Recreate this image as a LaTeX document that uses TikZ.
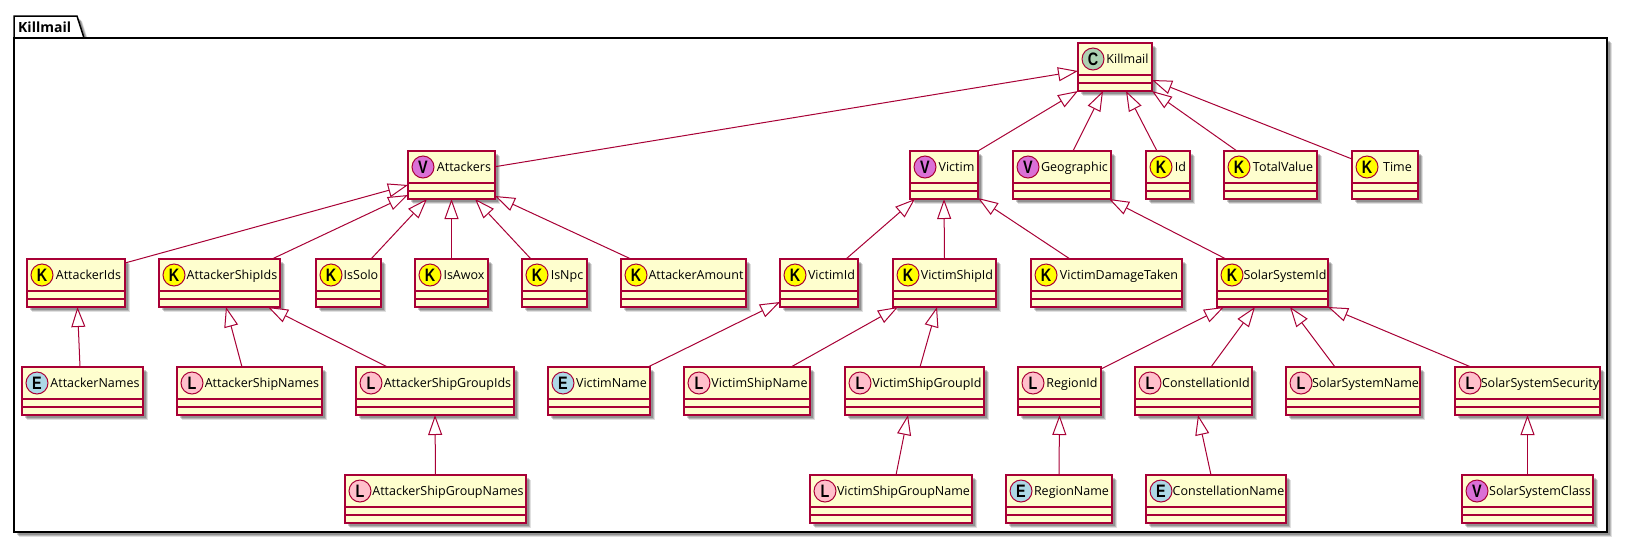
\documentclass[tikz,border=0pt]{standalone}
\usepackage{fontspec}
\setmainfont{Open Sans}
\newfontfamily\spotfont[FakeStretch=0.8]{Liberation Sans}
\usetikzlibrary{arrows.meta, shadows}
\definecolor{umlred}{HTML}{A80036}
\definecolor{umlcream}{HTML}{FEFECE}
\definecolor{spotc}{HTML}{ADD1B2}
\definecolor{spotk}{HTML}{FFFF00}
\definecolor{spotv}{HTML}{DA70D6}
\definecolor{spotl}{HTML}{FFC0CB}
\definecolor{spote}{HTML}{ADD8E6}
\tikzset{
  % Soft shadow under boxes
  softshadow/.style={
    drop shadow={shadow xshift=5pt, shadow yshift=-5pt, opacity=0.12, fill=black},
    drop shadow={shadow xshift=4pt, shadow yshift=-4pt, opacity=0.18, fill=black},
    drop shadow={shadow xshift=3pt, shadow yshift=-3pt, opacity=0.20, fill=black},
  },
  % Letter in a circle
  spot/.style={
    circle, draw=umlred, fill=#1, line width=1pt, minimum size=22pt, inner sep=0pt,
    font=\spotfont\fontsize{18}{18}\selectfont\bfseries, text=black,
  },
  % Class boxes
  classbox/.style 2 args={
    rectangle, anchor=north west, draw=umlred, fill=umlcream, line width=1.4pt,
    inner xsep=0pt, inner ysep=0pt, outer sep=0pt, text height=20.5pt, text depth=27.5pt,
    font=\fontsize{12.5}{14}\selectfont, text=black, softshadow,
    execute at begin node={\hspace*{25pt}},
    path picture={
      \draw[umlred, line width=1.4pt]
        ([yshift=-32pt]path picture bounding box.north west) -- ([yshift=-32pt]path picture bounding box.north east)
        ([yshift=-40pt]path picture bounding box.north west) -- ([yshift=-40pt]path picture bounding box.north east);
    },
    append after command={
      node[spot=#1] (\tikzlastnode-spot) at ([shift={(15pt,-16pt)}]\tikzlastnode.north west) {#2}
    },
  },
  cclass/.style={classbox={spotc}{C}},
  kclass/.style={classbox={spotk}{K}},
  vclass/.style={classbox={spotv}{V}},
  lclass/.style={classbox={spotl}{L}},
  eclass/.style={classbox={spote}{E}},
  % Arrows
  genarrow/.style={-{Triangle[fill=white, length=20pt, width=14pt]}, draw=umlred, line width=1pt},
  % Package frame
  packagebox/.style={draw=black, fill=white, line width=1.5pt, softshadow},
}
\begin{document}
\begin{tikzpicture}[x=1pt, y=-1pt]
  \useasboundingbox (0,0) rectangle (1628,542);

  % Package frame
  \draw[packagebox] (14,38) -- (14,16) -- (77,16) -- (84,38) -- cycle;
  \draw[packagebox] (14,38) rectangle (1607,532);
  \node[font=\fontsize{14}{16}\selectfont\bfseries, anchor=west, inner sep=0pt] (package-title) at (18,27) {Killmail};

  % First rows
  \node[cclass, minimum width=74pt] (killmail) at (1078,43) {Killmail};
  \node[vclass, minimum width=87pt] (attackers) at (408,151) {Attackers};
  \node[vclass, minimum width=68pt] (victim) at (910,151) {Victim};
  \node[vclass, minimum width=98pt] (geographic) at (1013,151) {Geographic};
  \node[kclass, minimum width=44pt] (id) at (1146,151) {Id};
  \node[kclass, minimum width=93pt] (total-value) at (1224,151) {TotalValue};
  \node[kclass, minimum width=66pt] (time) at (1352,151) {Time};

  % Second row
  \node[kclass, minimum width=98pt] (attacker-ids) at (27,259) {AttackerIds};
  \node[kclass, minimum width=121pt] (attacker-ship-ids) at (159,259) {AttackerShipIds};
  \node[kclass, minimum width=65pt] (is-solo) at (316,259) {IsSolo};
  \node[kclass, minimum width=73pt] (is-awox) at (415,259) {IsAwox};
  \node[kclass, minimum width=65pt] (is-npc) at (522,259) {IsNpc};
  \node[kclass, minimum width=125pt] (attacker-amount) at (621,259) {AttackerAmount};
  \node[kclass, minimum width=78pt] (victim-id) at (780,259) {VictimId};
  \node[kclass, minimum width=103pt] (victim-ship-id) at (893,259) {VictimShipId};
  \node[kclass, minimum width=151pt] (victim-damage-taken) at (1031,259) {VictimDamageTaken};
  \node[kclass, minimum width=111pt] (solar-system-id) at (1217,259) {SolarSystemId};

  % Third row
  \node[eclass, minimum width=121pt] (attacker-names) at (22,367) {AttackerNames};
  \node[lclass, minimum width=145pt] (attacker-ship-names) at (177,367) {AttackerShipNames};
  \node[lclass, minimum width=158pt] (attacker-ship-group-ids) at (356,367) {AttackerShipGroupIds};
  \node[eclass, minimum width=102pt] (victim-name) at (548,367) {VictimName};
  \node[lclass, minimum width=126pt] (victim-ship-name) at (684,367) {VictimShipName};
  \node[lclass, minimum width=139pt] (victim-ship-group-id) at (845,367) {VictimShipGroupId};
  \node[lclass, minimum width=83pt] (region-id) at (1018,367) {RegionId};
  \node[lclass, minimum width=117pt] (constellation-id) at (1135,367) {ConstellationId};
  \node[lclass, minimum width=134pt] (solar-system-name) at (1286,367) {SolarSystemName};
  \node[lclass, minimum width=145pt] (solar-system-security) at (1455,367) {SolarSystemSecurity};

  % Fourth row
  \node[lclass, minimum width=181pt] (attacker-ship-group-names) at (345,475) {AttackerShipGroupNames};
  \node[lclass, minimum width=162pt] (victim-ship-group-name) at (810,475) {VictimShipGroupName};
  \node[eclass, minimum width=106pt] (region-name) at (1006,475) {RegionName};
  \node[eclass, minimum width=140pt] (constellation-name) at (1146,475) {ConstellationName};
  \node[vclass, minimum width=131pt] (solar-system-class) at (1462,475) {SolarSystemClass};

  % Arrows to Killmail
  \draw[genarrow] ([yshift=-15.7pt]attackers.north east) -- ([yshift=-28pt]killmail.north west);
  \draw[genarrow] (victim.north east) -- (killmail.south west);
  \draw[genarrow] ([xshift=60pt]geographic.north west) -- ([xshift=25pt]killmail.south west);
  \draw[genarrow] ([xshift=11pt]id.north west) -- ([xshift=48pt]killmail.south west);
  \draw[genarrow] ([xshift=13pt]total-value.north west) -- (killmail.south east);
  \draw[genarrow] ([yshift=-8pt]time.north west) -- ([yshift=11pt]killmail.south east);

  % Arrows to Attackers
  \draw[genarrow] ([yshift=-4pt]attacker-ids.north east) -- ([yshift=14pt]attackers.south west);
  \draw[genarrow] ([xshift=113pt]attacker-ship-ids.north west) -- ([yshift=4pt]attackers.south west);
  \draw[genarrow] ([xshift=55pt]is-solo.north west) -- ([xshift=19pt]attackers.south west);
  \draw[genarrow] (is-awox.north) -- (attackers.south);
  \draw[genarrow] ([xshift=9pt]is-npc.north west) -- ([xshift=67pt]attackers.south west);
  \draw[genarrow] ([xshift=10pt]attacker-amount.north west) -- ([yshift=3pt]attackers.south east);

  % Arrows to Victim
  \draw[genarrow] ([xshift=66pt]victim-id.north west) -- ([xshift=5pt]victim.south west);
  \draw[genarrow] (victim-ship-id.north) -- (victim.south);
  \draw[genarrow] ([xshift=39pt]victim-damage-taken.north west) -- ([yshift=1pt]victim.south east);

  % Arrow to Geographic
  \draw[genarrow] ([xshift=9pt]solar-system-id.north west) -- ([xshift=-2pt]geographic.south east);

  % Attacker details
  \draw[genarrow] ([xshift=58pt]attacker-names.north west) -- ([xshift=50.5pt]attacker-ids.south west);
  \draw[genarrow] ([xshift=65pt]attacker-ship-names.north west) -- ([xshift=67pt]attacker-ship-ids.south west);
  \draw[genarrow] ([xshift=31.5pt]attacker-ship-group-ids.north west) -- ([xshift=109pt]attacker-ship-ids.south west);
  \draw[genarrow] (attacker-ship-group-names.north) -- (attacker-ship-group-ids.south);

  % Victim details
  \draw[genarrow] ([xshift=100pt]victim-name.north west) -- ([yshift=5pt]victim-id.south west);
  \draw[genarrow] ([xshift=107pt]victim-ship-name.north west) -- ([xshift=5pt]victim-ship-id.south west);
  \draw[genarrow] ([xshift=75pt]victim-ship-group-id.north west) -- ([xshift=44pt]victim-ship-id.south west);
  \draw[genarrow] ([xshift=86pt]victim-ship-group-name.north west) -- ([xshift=63pt]victim-ship-group-id.south west);

  % Solar system details
  \draw[genarrow] ([yshift=-2pt]region-id.north east) -- ([xshift=7pt]solar-system-id.south west);
  \draw[genarrow] ([xshift=76pt]constellation-id.north west) -- ([xshift=38pt]solar-system-id.south west);
  \draw[genarrow] ([xshift=49pt]solar-system-name.north west) -- ([xshift=73pt]solar-system-id.south west);
  \draw[genarrow] ([xshift=16pt]solar-system-security.north west) -- (solar-system-id.south east);
  \draw[genarrow] (region-name.north) -- (region-id.south);
  \draw[genarrow] ([xshift=65pt]constellation-name.north west) -- ([xshift=63pt]constellation-id.south west);
  \draw[genarrow] (solar-system-class.north) -- (solar-system-security.south);
\end{tikzpicture}
\end{document}
